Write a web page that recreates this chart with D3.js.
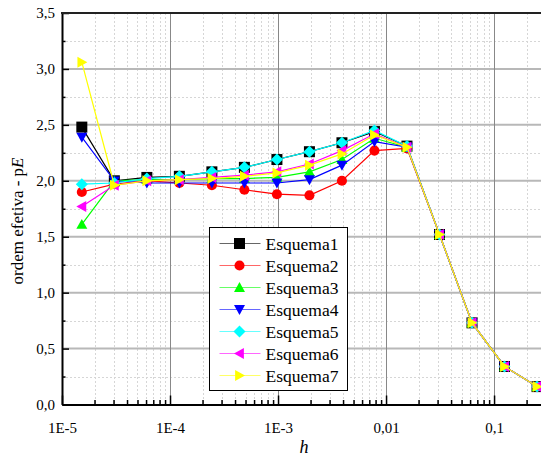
<!DOCTYPE html>
<html lang="en">
  <head>
    <meta charset="UTF-8" />
    <title>ordem efetiva</title>
    <script src="https://d3js.org/d3.v7.min.js"></script>
    <style>
      body { margin: 0; background: #fff; }
      svg { display: block; }
      svg text { font-family: "Liberation Serif", "Times New Roman", "DejaVu Serif", serif !important; }
    </style>
  </head>
  <body>
    <svg></svg>
    <script>
      // h = 2^-16 ... 2^-2
      let hValues = [
        1 / 65536, 1 / 32768, 1 / 16384, 1 / 8192, 1 / 4096, 1 / 2048, 1 / 1024,
        1 / 512, 1 / 256, 1 / 128, 1 / 64, 1 / 32, 1 / 16, 1 / 8, 1 / 4,
      ];
      let names = ["Esquema1", "Esquema2", "Esquema3", "Esquema4", "Esquema5", "Esquema6", "Esquema7"];
      let esquema1 = [2.48, 2.0, 2.03, 2.04, 2.08, 2.12, 2.19, 2.26, 2.34, 2.44, 2.31, 1.52, 0.73, 0.34, 0.16];
      let esquema2 = [1.9, 1.97, 2.0, 1.98, 1.96, 1.92, 1.88, 1.87, 2.0, 2.27, 2.29, 1.52, 0.73, 0.34, 0.16];
      let esquema3 = [1.61, 2.0, 2.01, 2.01, 2.02, 2.02, 2.03, 2.08, 2.19, 2.38, 2.3, 1.52, 0.73, 0.34, 0.16];
      let esquema4 = [2.39, 2.0, 1.98, 1.98, 1.98, 1.98, 1.98, 2.01, 2.14, 2.35, 2.3, 1.52, 0.73, 0.34, 0.16];
      let esquema5 = [1.97, 1.98, 2.02, 2.04, 2.08, 2.12, 2.19, 2.26, 2.34, 2.45, 2.31, 1.52, 0.73, 0.34, 0.16];
      let esquema6 = [1.77, 1.96, 2.0, 2.01, 2.03, 2.05, 2.08, 2.15, 2.27, 2.42, 2.3, 1.52, 0.73, 0.34, 0.16];
      let esquema7 = [3.06, 1.96, 2.0, 2.01, 2.02, 2.04, 2.07, 2.14, 2.24, 2.41, 2.3, 1.52, 0.73, 0.34, 0.16];
      let xTickLabels = ["1E-5", "1E-4", "1E-3", "0,01", "0,1"];
      let yTickValues = [0, 0.5, 1, 1.5, 2, 2.5, 3, 3.5];

      let colors = ["#000000", "#ff0000", "#00ff00", "#0000ff", "#00ffff", "#ff00ff", "#ffff00"];
      let shapes = ["square", "circle", "up", "down", "diamond", "left", "right"];
      let allSeries = [esquema1, esquema2, esquema3, esquema4, esquema5, esquema6, esquema7];

      let width = 541,
        height = 457;
      let plotLeft = 62,
        plotRight = 541,
        plotTop = 13,
        plotBottom = 404.5;
      let serif = "'Liberation Serif', 'Times New Roman', serif";

      let svg = d3.select("svg").attr("width", width).attr("height", height);

      let x = d3.scaleLog().domain([1e-5, 0.272]).range([plotLeft, plotRight]);
      let y = d3.scaleLinear().domain([0, 3.5]).range([plotBottom, plotTop]);

      // marker path centred on 0,0
      function marker(shape) {
        let s = 5.5;
        if (shape == "square") return `M${-s},${-s}H${s}V${s}H${-s}Z`;
        if (shape == "circle") return d3.symbol().type(d3.symbolCircle).size(80)();
        if (shape == "up") return `M0,${-s}L${s},${s * 0.8}L${-s},${s * 0.8}Z`;
        if (shape == "down") return `M0,${s}L${s},${-s * 0.8}L${-s},${-s * 0.8}Z`;
        if (shape == "left") return `M${-s},0L${s * 0.8},${-s}L${s * 0.8},${s}Z`;
        if (shape == "right") return `M${s},0L${-s * 0.8},${-s}L${-s * 0.8},${s}Z`;
        if (shape == "diamond") return `M0,${-s - 0.5}L${s + 0.5},0L0,${s + 0.5}L${-s - 0.5},0Z`;
      }

      // grid
      let grid = svg.append("g");
      let minorX = [];
      for (let e = -5; e <= -1; e++) {
        for (let m = 2; m <= 9; m++) {
          let v = m * Math.pow(10, e);
          if (v < 0.272) minorX.push(v);
        }
      }
      grid
        .selectAll(".minx")
        .data(minorX)
        .enter()
        .append("line")
        .attr("x1", (d) => Math.round(x(d)) + 0.5)
        .attr("x2", (d) => Math.round(x(d)) + 0.5)
        .attr("y1", plotTop)
        .attr("y2", plotBottom)
        .attr("stroke", "#d6d6d6")
        .attr("stroke-dasharray", "2,2");
      let minorY = d3.range(0.25, 3.5, 0.5);
      grid
        .selectAll(".miny")
        .data(minorY)
        .enter()
        .append("line")
        .attr("x1", plotLeft)
        .attr("x2", plotRight)
        .attr("y1", (d) => Math.round(y(d)) + 0.5)
        .attr("y2", (d) => Math.round(y(d)) + 0.5)
        .attr("stroke", "#d6d6d6")
        .attr("stroke-dasharray", "2,2");
      grid
        .selectAll(".majy")
        .data(yTickValues.slice(1, 7))
        .enter()
        .append("line")
        .attr("x1", plotLeft)
        .attr("x2", plotRight)
        .attr("y1", (d) => y(d))
        .attr("y2", (d) => y(d))
        .attr("stroke", "#b8b8b8")
        .attr("stroke-width", 2);
      grid
        .selectAll(".majx")
        .data([1e-4, 1e-3, 1e-2, 1e-1])
        .enter()
        .append("line")
        .attr("x1", (d) => Math.round(x(d)) + 0.5)
        .attr("x2", (d) => Math.round(x(d)) + 0.5)
        .attr("y1", plotTop)
        .attr("y2", plotBottom)
        .attr("stroke", "#888");

      // axes
      let xAxis = d3
        .axisBottom(x)
        .tickValues([1e-5, 1e-4, 1e-3, 1e-2, 1e-1])
        .tickFormat((d, i) => xTickLabels[i])
        .tickSizeInner(-9)
        .tickSizeOuter(0)
        .tickPadding(18);
      let gx = svg.append("g").attr("transform", `translate(0,${plotBottom})`).call(xAxis);
      gx.attr("font-family", null);
      gx.select(".domain").attr("stroke-width", 2);
      gx.selectAll(".tick line").attr("stroke-width", 1.5);
      gx.selectAll("text").attr("font-size", 15).attr("fill", "#000");
      svg
        .append("g")
        .attr("transform", `translate(0,${plotBottom})`)
        .call(d3.axisBottom(x).tickValues(minorX).tickFormat("").tickSizeInner(-4.5).tickSizeOuter(0))
        .call((g) => g.select(".domain").remove())
        .selectAll(".tick line")
        .attr("stroke-width", 1.5);

      let yAxis = d3
        .axisLeft(y)
        .tickValues(yTickValues)
        .tickFormat((d) => d3.format(".1f")(d).replace(".", ","))
        .tickSizeInner(-7)
        .tickSizeOuter(0)
        .tickPadding(7);
      let gy = svg.append("g").attr("transform", `translate(${plotLeft},0)`).call(yAxis);
      gy.attr("font-family", null);
      gy.select(".domain").attr("stroke-width", 2);
      gy.selectAll(".tick line").attr("stroke-width", 1.5);
      gy.selectAll("text").attr("font-size", 15).attr("fill", "#000");
      svg
        .append("g")
        .attr("transform", `translate(${plotLeft},0)`)
        .call(d3.axisLeft(y).tickValues(minorY).tickFormat("").tickSizeInner(-3.5).tickSizeOuter(0))
        .call((g) => g.select(".domain").remove())
        .selectAll(".tick line")
        .attr("stroke-width", 1.5);

      // top border
      svg
        .append("line")
        .attr("x1", plotLeft - 1)
        .attr("x2", plotRight)
        .attr("y1", plotTop)
        .attr("y2", plotTop)
        .attr("stroke", "#222")
        .attr("stroke-width", 2);

      // series
      let line = d3
        .line()
        .x((d, i) => x(hValues[i]))
        .y((d) => y(d));
      allSeries.forEach((vals, k) => {
        let g = svg.append("g").attr("class", "series");
        g.append("path")
          .attr("d", line(vals))
          .attr("fill", "none")
          .attr("stroke", colors[k])
          .attr("stroke-width", 1.2);
        g.selectAll("path.pt")
          .data(vals)
          .enter()
          .append("path")
          .attr("class", "pt")
          .attr("d", marker(shapes[k]))
          .attr("transform", (d, i) => `translate(${x(hValues[i])},${y(d)})`)
          .attr("fill", colors[k]);
      });

      // legend
      let legend = svg.append("g").attr("transform", "translate(209.5,227.5)");
      legend
        .append("rect")
        .attr("width", 138)
        .attr("height", 163)
        .attr("fill", "#fff")
        .attr("stroke", "#000");
      names.forEach((n, k) => {
        let ly = 16 + k * 22;
        legend
          .append("line")
          .attr("x1", 10)
          .attr("x2", 51)
          .attr("y1", ly)
          .attr("y2", ly)
          .attr("stroke", colors[k])
          .attr("stroke-opacity", 0.6);
        legend
          .append("path")
          .attr("d", marker(shapes[k]))
          .attr("transform", `translate(30,${ly})`)
          .attr("fill", colors[k]);
        legend
          .append("text")
          .attr("x", 56)
          .attr("y", ly + 6)
          .style("font-family", serif)
          .attr("font-size", 17.5)
          .text(n);
      });

      // axis titles
      svg
        .append("text")
        .attr("x", 304)
        .attr("y", 453)
        .attr("text-anchor", "middle")
        .attr("font-size", 18)
        .attr("font-style", "italic")
        .text("h");
      let yt = svg
        .append("text")
        .attr("transform", "translate(23,221) rotate(-90)")
        .attr("text-anchor", "middle")
        .attr("font-size", 17);
      yt.append("tspan").text("ordem efetiva - p");
      yt.append("tspan").attr("font-style", "italic").text("E");
    </script>
  </body>
</html>
